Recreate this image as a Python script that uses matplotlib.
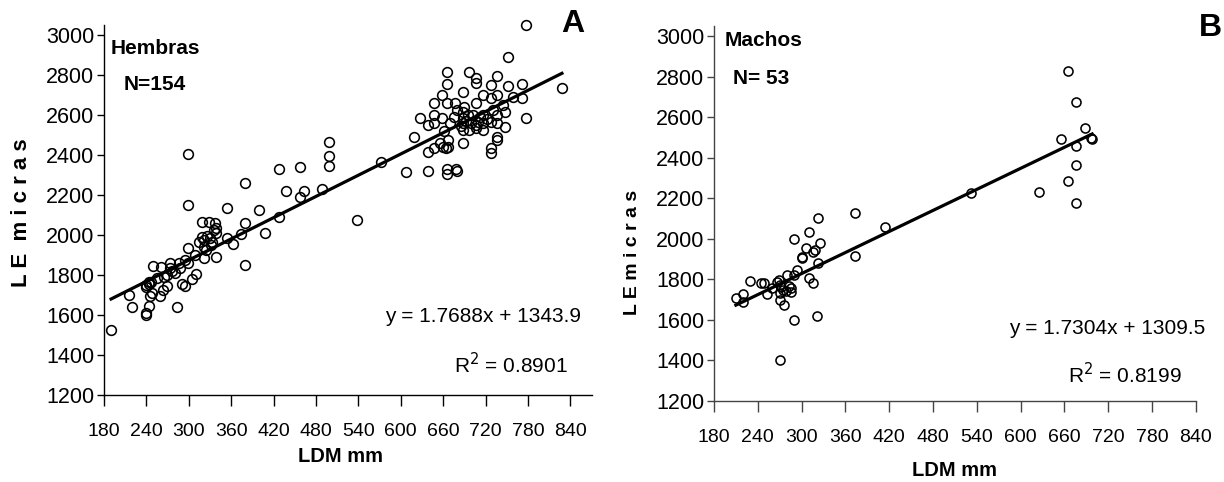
import matplotlib

matplotlib.use("Agg")
import matplotlib.pyplot as plt
import numpy as np

plt.rcParams["font.family"] = ["Liberation Sans", "DejaVu Sans"]

W, H = 1224, 482

# Hembras (panel A): LDM mm vs LE micras
hembras_x = [
    190, 215, 219, 239, 240, 244, 245, 240, 243, 246, 239, 248, 259, 263, 269,
    250, 260, 255, 269, 274, 273, 280, 283, 286, 288, 290, 295, 294, 299, 299,
    304, 310, 299, 299, 309, 319, 314, 321, 321, 325, 329, 330, 332, 337, 338,
    339, 338, 335, 354, 354, 363, 374, 379, 379, 379, 399, 408, 428, 428, 438,
    457, 457, 463, 488, 499, 499, 499, 538, 318, 326, 333, 322, 243, 276, 265,
    572, 608, 638, 666, 666, 678, 680, 619, 627, 638, 647, 647, 647, 658, 658,
    666, 666, 666, 677, 679, 688, 688, 688, 688, 688, 688, 697, 697, 707, 707,
    707, 707, 707, 717, 717, 717, 717, 728, 728, 728, 728, 728, 736, 736, 736,
    736, 736, 736, 747, 747, 752, 752, 759, 772, 772, 777, 777, 828, 660, 664,
    667, 647, 638, 655, 667, 692, 700, 695, 685, 712, 722, 670, 675, 702, 744,
    731, 661, 690, 709,
]
hembras_y = [
    1525, 1700, 1642, 1610, 1600, 1645, 1697, 1750, 1767, 1767, 1742, 1708, 1697, 1725, 1747,
    1845, 1842, 1787, 1800, 1862, 1833, 1808, 1642, 1858, 1833, 1755, 1747, 1875, 1933, 1858,
    1780, 1805, 2405, 2150, 1900, 2067, 1967, 1975, 1883, 1925, 2067, 1983, 1950, 2058, 2033,
    2008, 1888, 2025, 2133, 1983, 1955, 2005, 2258, 2058, 1850, 2125, 2008, 2328, 2092, 2220,
    2338, 2192, 2220, 2228, 2463, 2397, 2347, 2075, 1990, 1995, 1965, 1940, 1755, 1818, 1790,
    2367, 2313, 2322, 2330, 2303, 2330, 2322, 2492, 2583, 2550, 2658, 2600, 2558, 2700, 2583,
    2813, 2753, 2658, 2658, 2625, 2717, 2617, 2583, 2558, 2525, 2458, 2813, 2525, 2783, 2758,
    2658, 2550, 2533, 2700, 2600, 2558, 2525, 2750, 2683, 2567, 2433, 2408, 2797, 2700, 2600,
    2558, 2492, 2475, 2617, 2542, 2892, 2747, 2692, 2753, 2683, 2583, 3050, 2737, 2440, 2435,
    2438, 2433, 2417, 2458, 2475, 2570, 2560, 2600, 2545, 2590, 2580, 2560, 2590, 2600, 2650,
    2625, 2520, 2640, 2565,
]

# Machos (panel B)
machos_x = [
    210, 220, 220, 229, 244, 249, 253, 260, 269, 270, 271, 270, 276, 274, 280,
    283, 285, 286, 290, 294, 300, 301, 306, 310, 315, 319, 322, 322, 325, 310,
    316, 290, 290, 321, 270, 373, 373, 414, 532, 665, 676, 688, 656, 676, 698,
    696, 676, 665, 625, 676, 272, 278, 266,
]
machos_y = [
    1707, 1729, 1686, 1793, 1784, 1781, 1729, 1757, 1798, 1773, 1732, 1699, 1674, 1748, 1822,
    1765, 1740, 1757, 1822, 1847, 1904, 1912, 1954, 2036, 1937, 1945, 2101, 1880, 1981, 1806,
    1781, 1998, 1600, 1620, 1403, 2126, 1913, 2060, 2225, 2827, 2673, 2545, 2491, 2458, 2491,
    2497, 2364, 2285, 2233, 2179, 1760, 1745, 1785,
]

x_ticks = list(range(180, 841, 60))
y_ticks = list(range(1200, 3001, 200))

fits = {
    "A": (1.7688, 1343.9, "y = 1.7688x + 1343.9", "R$^2$ = 0.8901"),
    "B": (1.7304, 1309.5, "y = 1.7304x + 1309.5", "R$^2$ = 0.8199"),
}


def px(x, y):
    return x / W, 1 - y / H


fig = plt.figure(figsize=(W / 100, H / 100), dpi=100)


def panel(rect, xs, ys, xmax, key, spine_color, ms):
    ax = fig.add_axes(rect)
    ax.plot(xs, ys, "o", ms=ms, mfc="none", mec="black", mew=1.15, clip_on=False, zorder=3)
    slope, intercept, eq, r2 = fits[key]
    lx = np.array([min(xs), max(xs)])
    ax.plot(lx, slope * lx + intercept, color="black", lw=2.3, zorder=4)
    ax.set_xlim(180, xmax)
    ax.set_ylim(1200, 3050)
    ax.set_xticks(x_ticks)
    ax.set_yticks(y_ticks)
    for s in ("top", "right"):
        ax.spines[s].set_visible(False)
    for s in ("left", "bottom"):
        ax.spines[s].set_color(spine_color)
        ax.spines[s].set_linewidth(1.0)
    ax.tick_params(axis="x", direction="out", length=8, width=1, pad=12,
                   labelsize=14, color=spine_color)
    ax.tick_params(axis="y", direction="out", length=5, width=1, pad=2,
                   labelsize=15.5, color=spine_color)
    return ax, eq, r2


# Panel A
axA, eqA, r2A = panel([104 / W, 1 - 395 / H, 487.6 / W, 370 / H],
                      hembras_x, hembras_y, 870, "A", "black", 7)
# Panel B
axB, eqB, r2B = panel([714 / W, 1 - 401 / H, 481.8 / W, 375 / H],
                      machos_x, machos_y, 840, "B", "#444444", 6.5)

bold = dict(fontweight="bold", fontsize=15)
fig.text(*px(111, 48), "Hembras", ha="left", va="center", **bold)
fig.text(*px(155, 84), "N=154", ha="center", va="center", **bold)
fig.text(*px(725, 41), "Machos", ha="left", va="center", **bold)
fig.text(*px(761, 78), "N= 53", ha="center", va="center", **bold)

fig.text(*px(573, 24), "A", ha="center", va="center", fontsize=23, fontweight="bold")
fig.text(*px(1210, 28), "B", ha="center", va="center", fontsize=23, fontweight="bold")

fig.text(*px(483, 317), eqA, ha="center", va="center", fontsize=15)
fig.text(*px(511, 365), r2A, ha="center", va="center", fontsize=15)
fig.text(*px(1107, 328), eqB, ha="center", va="center", fontsize=15)
fig.text(*px(1125, 375), r2B, ha="center", va="center", fontsize=15)

fig.text(*px(22, 213), "L E  m i c r a s", rotation=90, ha="center", va="center",
         fontsize=16, fontweight="bold")
fig.text(*px(632, 252), "L E m i c r a s", rotation=90, ha="center", va="center",
         fontsize=14, fontweight="bold")

fig.text(*px(340, 456), "LDM mm", ha="center", va="center", fontsize=14.5, fontweight="bold")
fig.text(*px(955, 470), "LDM mm", ha="center", va="center", fontsize=14.5, fontweight="bold")

fig.savefig("out.png", dpi=100)
